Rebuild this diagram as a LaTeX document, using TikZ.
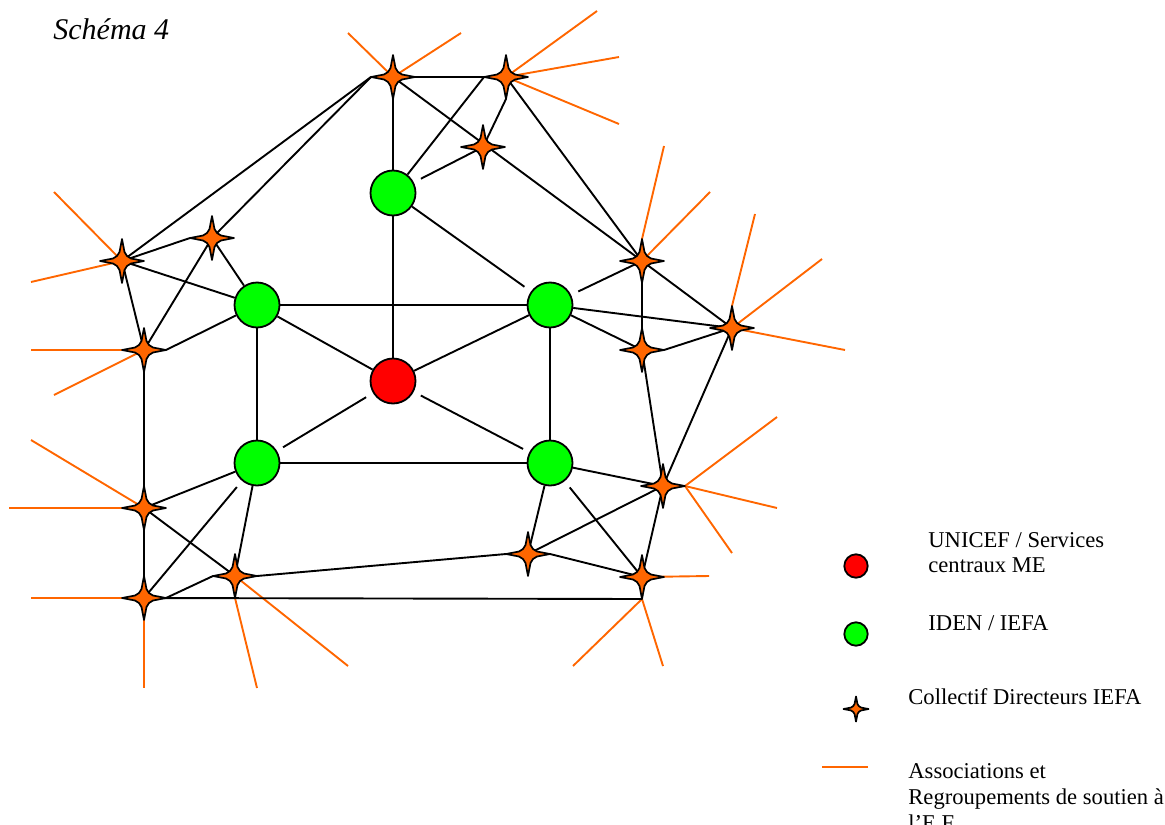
\documentclass[tikz,border=0pt]{standalone}
\usepackage{fontspec}
\setmainfont{Liberation Serif}
\definecolor{orgc}{RGB}{255,102,0}
\definecolor{grnc}{RGB}{0,255,0}
\definecolor{redc}{RGB}{255,0,0}
\pgfdeclarelayer{bg}
\pgfsetlayers{bg,main}
\tikzset{
  fourstar/.pic={
    \filldraw[fill=orgc,draw=black,line width=0.85pt,line join=round]
      (0,-22) -- (2.5,-9) -- (5,-5) -- (9,-2.5) -- (22,0) -- (9,2.5) -- (5,5) -- (2.5,9)
      -- (0,22) -- (-2.5,9) -- (-5,5) -- (-9,2.5) -- (-22,0) -- (-9,-2.5) -- (-5,-5) -- (-2.5,-9) -- cycle;
    \coordinate (-n) at (0,-22);
    \coordinate (-s) at (0,22);
    \coordinate (-e) at (22,0);
    \coordinate (-w) at (-22,0);
  },
}
\begin{document}
\begin{tikzpicture}[x=0.5pt,y=-0.5pt,
  edge/.style={draw=black,line width=0.95pt},
  assoc/.style={draw=orgc,line width=0.95pt},
  idn/.style={circle,draw=black,fill=grnc,line width=0.9pt,minimum size=22.5pt,inner sep=0pt},
  cen/.style={idn,fill=redc},
  legtext/.style={anchor=base west,inner sep=0pt,font=\fontsize{11.3}{13}\selectfont}]
\useasboundingbox (0,0) rectangle (1165,824);
\clip (0,0) rectangle (1165,824);

% title
\node[anchor=base west,inner sep=0pt,font=\fontsize{15}{18}\selectfont\itshape] (title) at (53,40) {Schéma 4};

% circles
\node[idn] (g1) at (393,193) {};
\node[idn] (g2) at (257,305) {};
\node[idn] (g3) at (550,305) {};
\node[idn] (g4) at (257,463) {};
\node[idn] (g5) at (550,463) {};
\node[cen] (r) at (393,381) {};

% stars
\pic (s1) at (393,77) {fourstar};
\pic (s2) at (506,77) {fourstar};
\pic (s3) at (483,147) {fourstar};
\pic (s4) at (212,238) {fourstar};
\pic (s5) at (122,261) {fourstar};
\pic (s6) at (144,350) {fourstar};
\pic (s7) at (642,261) {fourstar};
\pic (s8) at (732,328) {fourstar};
\pic (s9) at (642,350) {fourstar};
\pic (s10) at (663,486) {fourstar};
\pic (s11) at (144,508) {fourstar};
\pic (s12) at (528,554) {fourstar};
\pic (s13) at (235,576) {fourstar};
\pic (s14) at (144,598) {fourstar};
\pic (s15) at (642,577) {fourstar};
\foreach \n/\x/\y in {s1/393/77,s2/506/77,s3/483/147,s4/212/238,s5/122/261,s6/144/350,
  s7/642/261,s8/732/328,s9/642/350,s10/663/486,s11/144/508,s12/528/554,s13/235/576,
  s14/144/598,s15/642/577}
  \coordinate (\n) at (\x,\y);

% free ends of association lines
\coordinate (a1) at (348,33);  \coordinate (a2) at (461,33);
\coordinate (b1) at (597,11);  \coordinate (b2) at (619,57);  \coordinate (b3) at (619,124);
\coordinate (c1) at (54,192);  \coordinate (c2) at (31,282);
\coordinate (d1) at (31,350);  \coordinate (d2) at (54,395);
\coordinate (e1) at (31,440);  \coordinate (e2) at (9,508);
\coordinate (f1) at (31,598);  \coordinate (f2) at (144,688);
\coordinate (h1) at (257,688); \coordinate (h2) at (348,666);
\coordinate (i1) at (709,576); \coordinate (i2) at (573,666); \coordinate (i3) at (663,666);
\coordinate (j1) at (777,417); \coordinate (j2) at (777,508); \coordinate (j3) at (732,553);
\coordinate (k1) at (664,146); \coordinate (k2) at (710,192);
\coordinate (m1) at (755,214); \coordinate (m2) at (822,259); \coordinate (m3) at (845,350);

\begin{pgfonlayer}{bg}
  % association lines
  \foreach \a/\b in {s1/a1,s1/a2,s2/b1,s2/b2,s2/b3,s5/c1,s5/c2,s6/d1,s6/d2,
    s11/e1,s11/e2,s14/f1,s14/f2,s13-s/h1,s13/h2,s15/i1,s15-s/i2,s15-s/i3,
    s10-e/j1,s10-e/j2,s10-e/j3,s7-n/k1,s7/k2,s8-n/m1,s8/m2,s8/m3}
    \draw[assoc] (\a) -- (\b);
  % links
  \foreach \a/\b in {s1/s2,s1/g1,s1-w/s5,s1-w/s4,s4-w/s5,s4/g2,s4/s6,s5/g2,s5/s6,
    s6-e/g2,s6/s11,s2-w/g1,s1/s7,s2-s/s3,s2/s7,s7/s9,s7/s8,g3/s8,g3/s9,s9-e/s8,
    s9/s10,s8/s10,g5/s10,s10/s12,s10/s15,g5/s12,s12-e/s15,s13-e/s12-w,s14/s15-s,
    g2/g3,g2/g4,g3/g5,g4/g5,g1/r,g2/r,g3/r,g4/s11,s11/s14,s11/s13,g4/s13,s13-w/s14-e}
    \draw[edge] (\a) -- (\b);
  \draw[edge,shorten <=4pt] (g1) -- (s3);
  \draw[edge,shorten >=4pt] (g1) -- (g3);
  \draw[edge,shorten <=4pt] (g3) -- (s7);
  \draw[edge,shorten <=4pt,shorten >=3.5pt] (r) -- (g4);
  \draw[edge,shorten <=4pt,shorten >=3.5pt] (r) -- (g5);
  \draw[edge,shorten <=4pt] (g5) -- (s15);
  \draw[edge,shorten <=4pt] (g4) -- (s14);
\end{pgfonlayer}

% legend
\node[cen,minimum size=11.7pt] (lred) at (856,566) {};
\node[idn,minimum size=11.7pt] (lgrn) at (856,634) {};
\pic[scale=0.57] (lstar) at (856,709) {fourstar};
\coordinate (la) at (822,767);
\coordinate (lb) at (868,767);
\draw[assoc] (la) -- (lb);
\node[legtext] (t1a) at (928,547) {UNICEF / Services};
\node[legtext] (t1b) at (928,572) {centraux ME};
\node[legtext] (t2) at (928,630) {IDEN / IEFA};
\node[legtext] (t3) at (908,704) {Collectif Directeurs IEFA};
\node[legtext] (t4a) at (908,778) {Associations et};
\node[legtext] (t4b) at (908,804) {Regroupements de soutien à};
\node[legtext] (t4c) at (908,830) {l’E.F.};
\end{tikzpicture}
\end{document}
